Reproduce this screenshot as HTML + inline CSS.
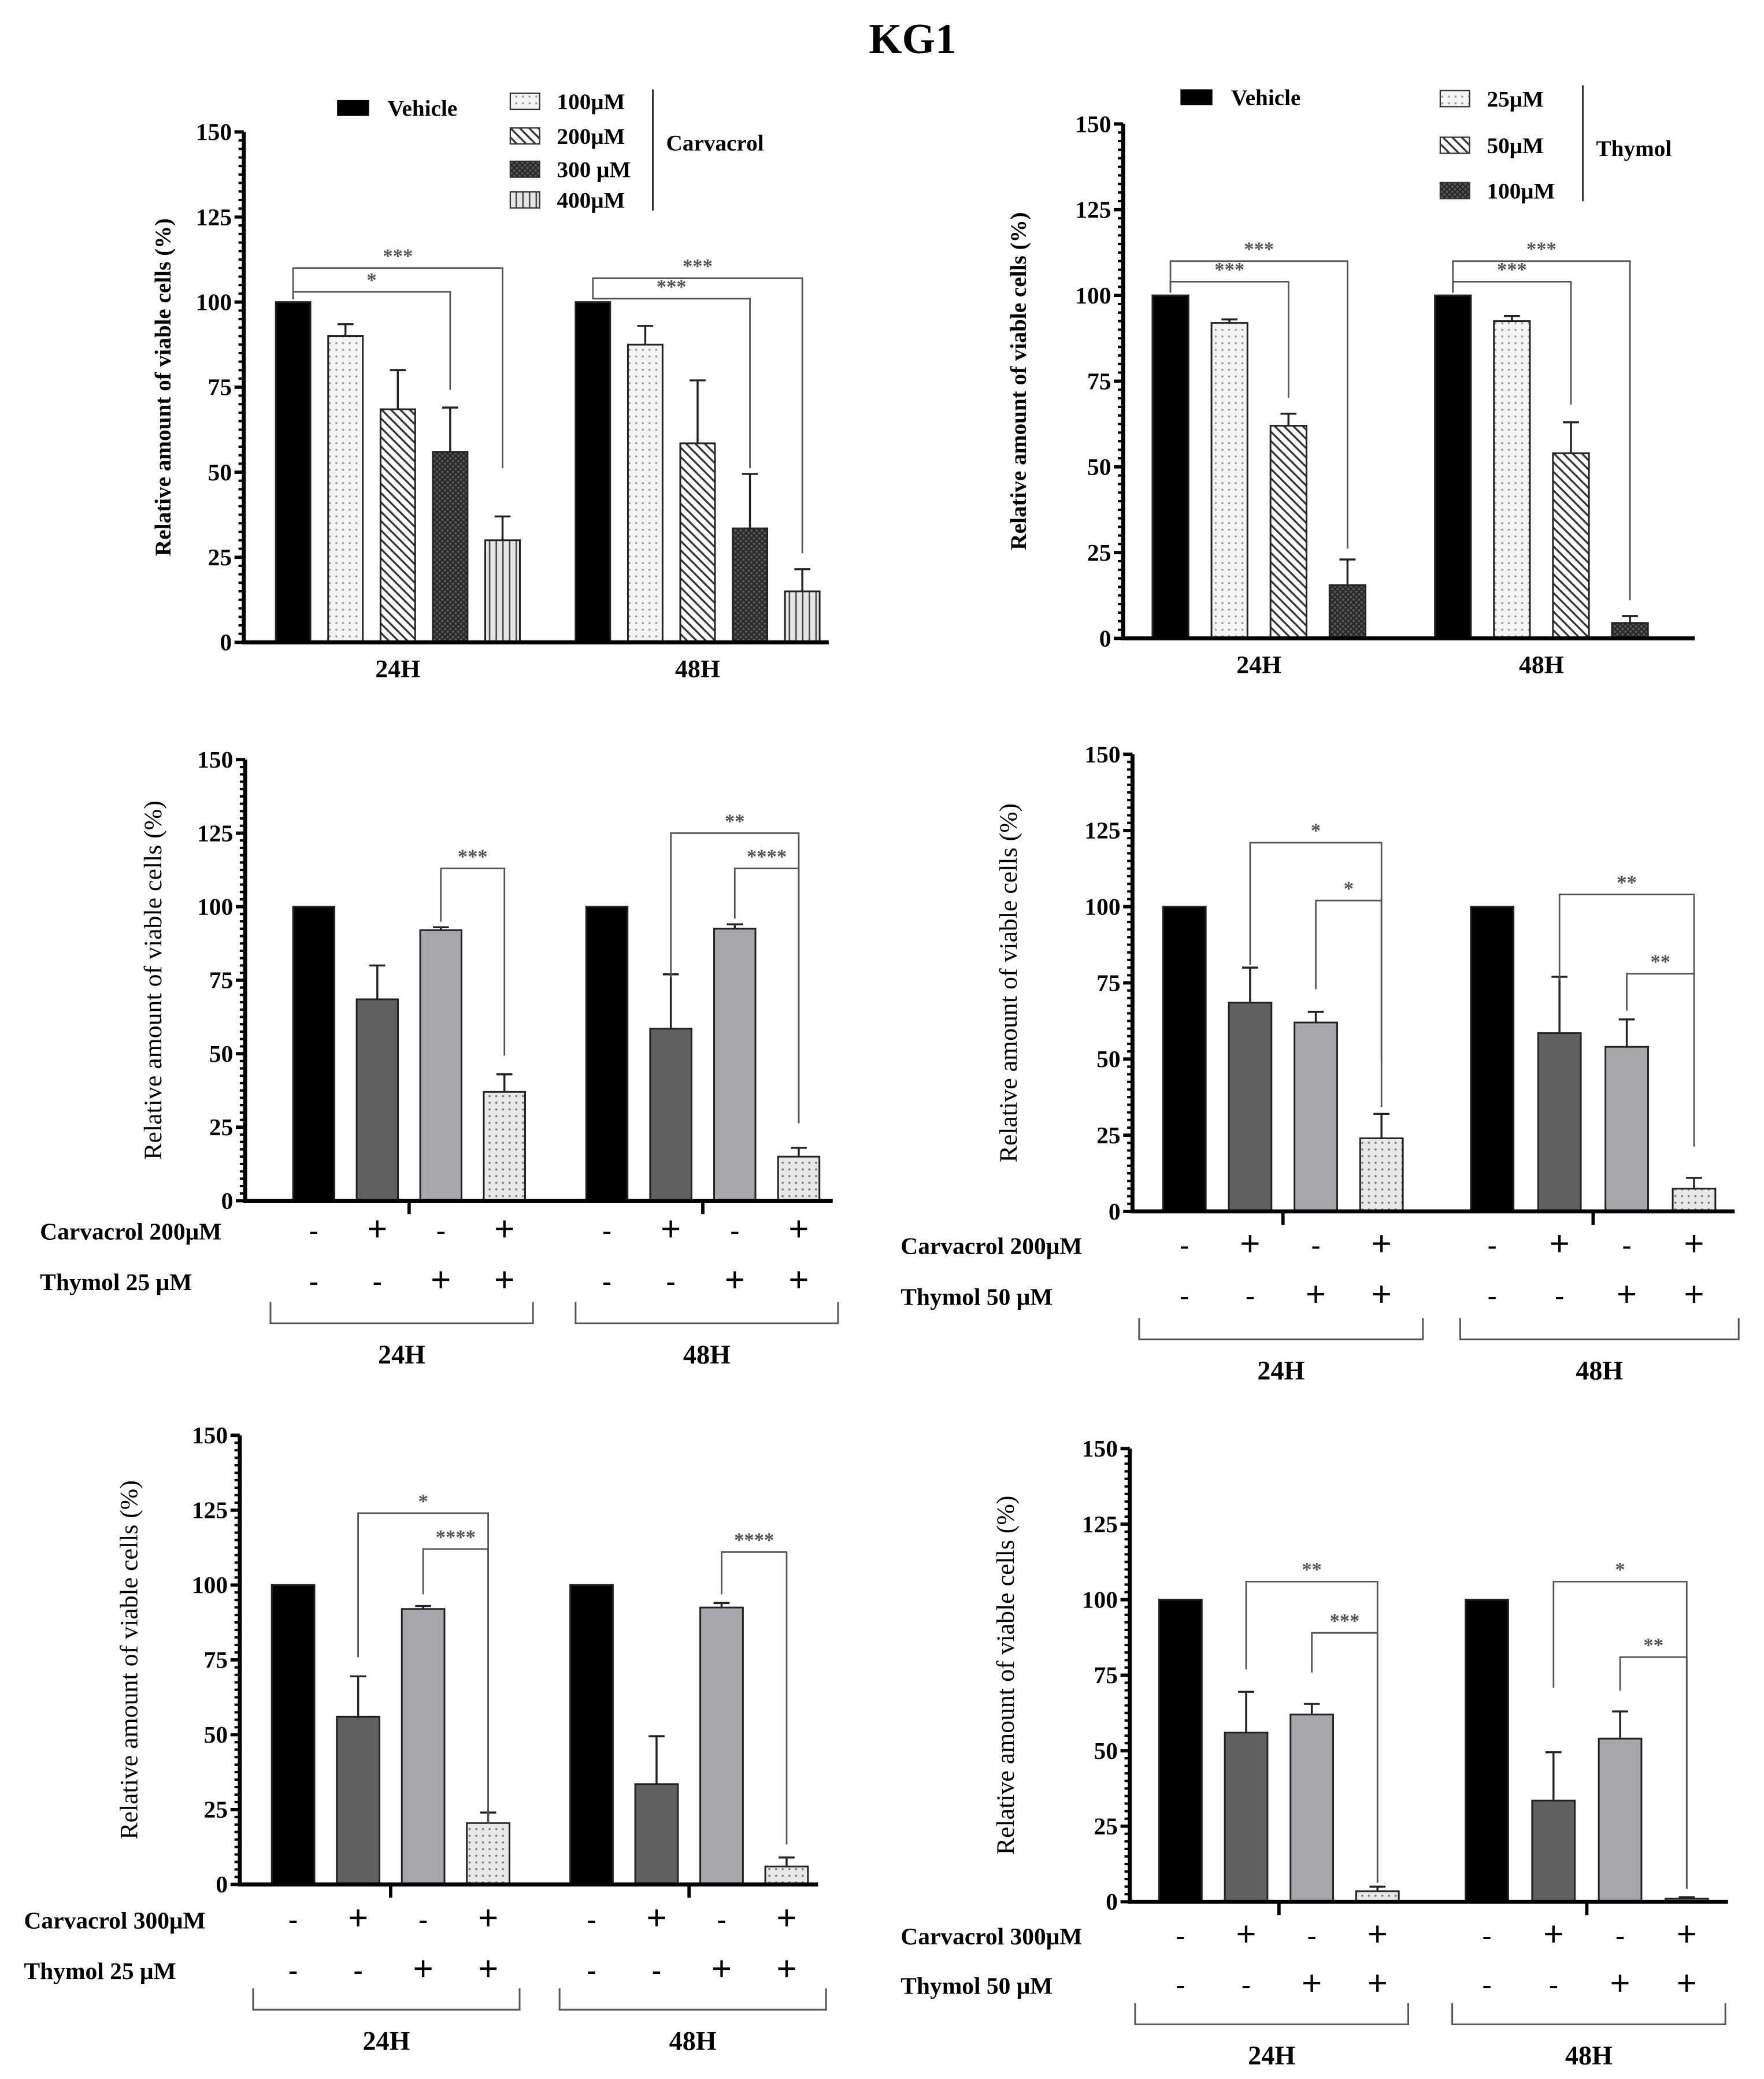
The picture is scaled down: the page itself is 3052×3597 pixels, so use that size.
<!DOCTYPE html>
<html><head><meta charset="utf-8"><title>KG1</title>
<style>html,body{margin:0;padding:0;background:#fff}svg{display:block}</style></head>
<body>
<svg id="fig" xmlns="http://www.w3.org/2000/svg" width="3052" height="3597" viewBox="0 0 1324 1560" preserveAspectRatio="none">
<defs>
<pattern id="pDots" width="5" height="5" patternUnits="userSpaceOnUse"><rect width="5" height="5" fill="#f4f4f4"/><circle cx="2.5" cy="2.5" r="0.8" fill="#999"/></pattern>
<pattern id="pDiag" width="7" height="7" patternUnits="userSpaceOnUse"><rect width="7" height="7" fill="#fff"/><path d="M-1,-1 L8,8 M-1,6 L1,8 M6,-1 L8,1" stroke="#333" stroke-width="1.4"/></pattern>
<pattern id="pCross" width="4" height="4" patternUnits="userSpaceOnUse"><rect width="4" height="4" fill="#555"/><path d="M0,0 L4,4 M4,0 L0,4" stroke="#222" stroke-width="0.9"/></pattern>
<pattern id="pVert" width="5" height="5" patternUnits="userSpaceOnUse"><rect width="5" height="5" fill="#e6e6e6"/><path d="M2.5,0 V5" stroke="#444" stroke-width="1.1"/></pattern>
<pattern id="pDots2" width="5" height="5" patternUnits="userSpaceOnUse"><rect width="5" height="5" fill="#e8e8e8"/><circle cx="2.5" cy="2.5" r="0.8" fill="#777"/></pattern>
</defs>
<text x="685" y="40" text-anchor="middle" font-family="Liberation Serif, serif" font-weight="bold" font-size="32">KG1</text>
</svg>
<script>
// ---- Data ----
const groups = ["24H", "48H"];
// Panel A: carvacrol
const aValues24 = [100, 90, 68.5, 56, 30];
const aErrors24 = [100, 93.5, 80, 69, 37];
const aValues48 = [100, 87.5, 58.5, 33.5, 15];
const aErrors48 = [100, 93, 77, 49.5, 21.5];
const aLegend = ["100μM", "200μM", "300 μM", "400μM"];
// Panel B: thymol
const bValues24 = [100, 92, 62, 15.5];
const bErrors24 = [100, 93, 65.5, 23];
const bValues48 = [100, 92.5, 54, 4.5];
const bErrors48 = [100, 94, 63, 6.5];
const bLegend = ["25μM", "50μM", "100μM"];
// Panel C
const cValues24 = [100, 68.5, 92, 37];
const cErrors24 = [100, 80, 93, 43];
const cValues48 = [100, 58.5, 92.5, 15];
const cErrors48 = [100, 77, 94, 18];
// Panel D
const dValues24 = [100, 68.5, 62, 24];
const dErrors24 = [100, 80, 65.5, 32];
const dValues48 = [100, 58.5, 54, 7.5];
const dErrors48 = [100, 77, 63, 11];
// Panel E
const eValues24 = [100, 56, 92, 20.5];
const eErrors24 = [100, 69.5, 93, 24];
const eValues48 = [100, 33.5, 92.5, 6];
const eErrors48 = [100, 49.5, 94, 9];
// Panel F
const fValues24 = [100, 56, 62, 3.5];
const fErrors24 = [100, 69.5, 65.5, 5];
const fValues48 = [100, 33.5, 54, 1];
const fErrors48 = [100, 49.5, 63, 1.5];
const yTicks = [0, 25, 50, 75, 100, 125, 150];
const carvSigns = ["-", "+", "-", "+"];
const thySigns = ["-", "-", "+", "+"];
// significance: [group, barFrom, barTo, level, legFrom, legTo, label]
const aSig = [[0,0,4,110,100,50,"***"],[0,0,3,103,100,73,"*"],[1,0,4,107,100,25,"***"],[1,0,3,101,100,50,"***"]];
const bSig = [[0,0,3,110,100,25,"***"],[0,0,2,104,100,69,"***"],[1,0,3,110,100,10,"***"],[1,0,2,104,100,67,"***"]];
const cSig = [[0,2,3,113,94,48,"***"],[1,1,3,125,75,25,"**"],[1,2,3,113,95,25,"****"]];
const dSig = [[0,1,3,121,80,48,"*"],[0,2,3,102,72,33,"*"],[1,1,3,104,75,20,"**"],[1,2,3,78,65,20,"**"]];
const eSig = [[0,1,3,124,75,19,"*"],[0,2,3,112,96,19,"****"],[1,2,3,111,96,12,"****"]];
const fSig = [[0,1,3,106,76,5,"**"],[0,2,3,89,75,5,"***"],[1,1,3,106,70,3,"*"],[1,2,3,81,69,3,"**"]];

const NS = "http://www.w3.org/2000/svg";
const svg = document.getElementById('fig');
function mk(tag, attrs, parent, txt) {
  const e = document.createElementNS(NS, tag);
  for (const k in attrs) e.setAttribute(k, attrs[k]);
  if (txt !== undefined) e.textContent = txt;
  (parent || svg).appendChild(e);
  return e;
}
const SERIF = "Liberation Serif, serif";

function panel(cfg) {
  const g = mk('g', {});
  
  
  const y = v => cfg.y0 - (v / 150) * (cfg.y0 - cfg.y150);
  const barX = (gi, i) => cfg.starts[gi] + i * cfg.steps[gi];
  const barC = (gi, i) => barX(gi, i) + cfg.w / 2;
  cfg.vals.forEach((vals, gi) => {
    vals.forEach((v, i) => {
      const x = barX(gi, i);
      const er = cfg.errs[gi][i];
      if (er > v) {
        const l = mk('path', {d: `M${x + cfg.w/2},${y(v)} V${y(er)} M${x + cfg.w/2 - 6},${y(er)} H${x + cfg.w/2 + 6}`, stroke: '#222', 'stroke-width': 1.5, fill: 'none'}, g);
        
        
      }
      const r = mk('rect', {x: x, y: y(v), width: cfg.w, height: cfg.y0 - y(v), fill: cfg.fills[i], stroke: '#222', 'stroke-width': 1.3}, g);
      
      
    });
  });
  const ax = mk('path', {d: `M${cfg.x0},${cfg.y150} V${cfg.y0} H${cfg.xEnd}`, stroke: '#000', 'stroke-width': 3, fill: 'none'}, g);
  
  
  for (let v = 0; v <= 150; v += 2.5) {
    const major = v % 25 === 0;
    mk('line', {x1: cfg.x0 - (major ? 7 : 4), x2: cfg.x0, y1: y(v), y2: y(v), stroke: '#000', 'stroke-width': major ? 2.5 : 1.8}, g);
  }
  yTicks.forEach(t => {
    const tl = mk('text', {x: cfg.x0 - 9, y: y(t) + 6, 'text-anchor': 'end', 'font-family': SERIF, 'font-weight': 'bold', 'font-size': 18}, g, String(t));
    
    
  });
  const tx = cfg.titleX, ty = (cfg.y0 + cfg.y150) / 2;
  const tt = mk('text', {x: tx, y: ty, transform: `rotate(-90 ${tx} ${ty})`, 'text-anchor': 'middle', 'font-family': SERIF, 'font-weight': cfg.titleBold ? 'bold' : 'normal', 'font-size': cfg.titleBold ? 17 : 19}, g, 'Relative amount of viable cells (%)');
  
  
  cfg.sig.forEach(s => {
    const [gi, a, b, lev, la, lb, lab] = s;
    const xa = barC(gi, a), xb = barC(gi, b);
    const p = mk('path', {d: `M${xa},${y(la) - 2} V${y(lev)} H${xb} V${y(lb) - 3}`, stroke: '#555', 'stroke-width': 1.2, fill: 'none'}, g);
    
    
    const st = mk('text', {x: (xa + xb) / 2, y: y(lev) - 4, 'text-anchor': 'middle', 'font-family': SERIF, 'font-weight': 'bold', 'font-size': 15, fill: '#555'}, g, lab);
    
    
  });
  if (cfg.simpleX) {
    groups.forEach((gn, gi) => {
      const n = cfg.vals[gi].length;
      const cx = (barX(gi, 0) + barX(gi, n - 1) + cfg.w) / 2;
      const xl = mk('text', {x: cx, y: cfg.y0 + 26, 'text-anchor': 'middle', 'font-family': SERIF, 'font-weight': 'bold', 'font-size': 19}, g, gn);
      
      
    });
  } else {
    groups.forEach((gn, gi) => {
      const tick = (barX(gi, 1) + cfg.w + barX(gi, 2)) / 2;
      mk('line', {x1: tick, x2: tick, y1: cfg.y0, y2: cfg.y0 + 10, stroke: '#000', 'stroke-width': 2.5}, g);
      carvSigns.forEach((sg, i) => {
        const e = mk('text', {x: barC(gi, i), y: cfg.row1 + 8, 'text-anchor': 'middle', 'font-family': 'Liberation Sans, sans-serif', 'font-size': sg === '+' ? 26 : 22}, g, sg);
        
        
      });
      thySigns.forEach((sg, i) => {
        const e = mk('text', {x: barC(gi, i), y: cfg.row2 + 8, 'text-anchor': 'middle', 'font-family': 'Liberation Sans, sans-serif', 'font-size': sg === '+' ? 26 : 22}, g, sg);
        
        
      });
      const [bl, br] = cfg.brk[gi];
      const bp = mk('path', {d: `M${bl},${cfg.brkY - 16} V${cfg.brkY} H${br} V${cfg.brkY - 16}`, stroke: '#555', 'stroke-width': 1.3, fill: 'none'}, g);
      
      
      const gl = mk('text', {x: (bl + br) / 2, y: cfg.brkY + 30, 'text-anchor': 'middle', 'font-family': SERIF, 'font-weight': 'bold', 'font-size': 20}, g, gn);
      
      
    });
    const l1 = mk('text', {x: cfg.labX, y: cfg.row1 + 7, 'font-family': SERIF, 'font-weight': 'bold', 'font-size': 18}, g, cfg.lab1);
    
    
    const l2 = mk('text', {x: cfg.labX, y: cfg.row2 + 7, 'font-family': SERIF, 'font-weight': 'bold', 'font-size': 18}, g, cfg.lab2);
    
    
  }
  return g;
}
const comboFills = ['#000', '#606060', '#a6a6ab', 'url(#pDots2)'];

const gA = panel({name: 'panel-carvacrol', x0: 183, xEnd: 622, y0: 482, y150: 99, starts: [207, 432], steps: [39.3, 39.3], w: 26,
  vals: [aValues24, aValues48], errs: [aErrors24, aErrors48], fills: ['#000', 'url(#pDots)', 'url(#pDiag)', 'url(#pCross)', 'url(#pVert)'],
  sig: aSig, titleX: 128, titleBold: true, simpleX: true});
const gB = panel({name: 'panel-thymol', x0: 843, xEnd: 1272, y0: 479, y150: 93, starts: [865, 1077], steps: [44.3, 44.3], w: 27,
  vals: [bValues24, bValues48], errs: [bErrors24, bErrors48], fills: ['#000', 'url(#pDots)', 'url(#pDiag)', 'url(#pCross)'],
  sig: bSig, titleX: 770, titleBold: true, simpleX: true});
panel({name: 'panel-carv200-thy25', x0: 184, xEnd: 625, y0: 901, y150: 570, starts: [220, 440], steps: [47.7, 48], w: 31,
  vals: [cValues24, cValues48], errs: [cErrors24, cErrors48], fills: comboFills, sig: cSig, titleX: 121,
  row1: 923, row2: 961, brk: [[203, 400], [432, 629]], brkY: 993, labX: 30, lab1: 'Carvacrol 200μM', lab2: 'Thymol 25 μM'});
panel({name: 'panel-carv200-thy50', x0: 850, xEnd: 1302, y0: 909, y150: 566, starts: [873, 1104], steps: [49.3, 50.5], w: 32,
  vals: [dValues24, dValues48], errs: [dErrors24, dErrors48], fills: comboFills, sig: dSig, titleX: 763,
  row1: 934, row2: 972, brk: [[855, 1068], [1096, 1305]], brkY: 1005, labX: 676, lab1: 'Carvacrol 200μM', lab2: 'Thymol 50 μM'});
panel({name: 'panel-carv300-thy25', x0: 180, xEnd: 614, y0: 1414, y150: 1077, starts: [204, 428], steps: [48.8, 48.8], w: 32,
  vals: [eValues24, eValues48], errs: [eErrors24, eErrors48], fills: comboFills, sig: eSig, titleX: 103,
  row1: 1440, row2: 1478, brk: [[190, 390], [420, 620]], brkY: 1508, labX: 18, lab1: 'Carvacrol 300μM', lab2: 'Thymol 25 μM'});
panel({name: 'panel-carv300-thy50', x0: 848, xEnd: 1297, y0: 1427, y150: 1087, starts: [870, 1100], steps: [49.3, 50], w: 32,
  vals: [fValues24, fValues48], errs: [fErrors24, fErrors48], fills: comboFills, sig: fSig, titleX: 761,
  row1: 1452, row2: 1489, brk: [[852, 1057], [1090, 1295]], brkY: 1519, labX: 676, lab1: 'Carvacrol 300μM', lab2: 'Thymol 50 μM'});

function legend(parent, vx, vy, px, ys, labels, fills, lineX, lineY1, lineY2, drug, drugY) {
  const v = mk('rect', {x: vx, y: vy - 6, width: 24, height: 12, fill: '#000'}, parent);
  
  
  const vt = mk('text', {x: vx + 38, y: vy + 6, 'font-family': SERIF, 'font-weight': 'bold', 'font-size': 17}, parent, 'Vehicle');
  
  
  labels.forEach((lab, i) => {
    const s = mk('rect', {x: px, y: ys[i] - 6, width: 22, height: 12, fill: fills[i], stroke: '#333', 'stroke-width': 1}, parent);
    
    
    const t = mk('text', {x: px + 35, y: ys[i] + 6, 'font-family': SERIF, 'font-weight': 'bold', 'font-size': 17}, parent, lab);
    
    
  });
  mk('line', {x1: lineX, x2: lineX, y1: lineY1, y2: lineY2, stroke: '#333', 'stroke-width': 1.3}, parent);
  const d = mk('text', {x: lineX + 10, y: drugY + 6, 'font-family': SERIF, 'font-weight': 'bold', 'font-size': 17}, parent, drug);
  
  
}
legend(gA, 253, 81, 383, [76, 102, 127, 150], aLegend, ['url(#pDots)', 'url(#pDiag)', 'url(#pCross)', 'url(#pVert)'], 490, 67, 158, 'Carvacrol', 107);
legend(gB, 886, 73, 1081, [74, 109, 143], bLegend, ['url(#pDots)', 'url(#pDiag)', 'url(#pCross)'], 1188, 64, 151, 'Thymol', 111);
</script>
</body></html>
